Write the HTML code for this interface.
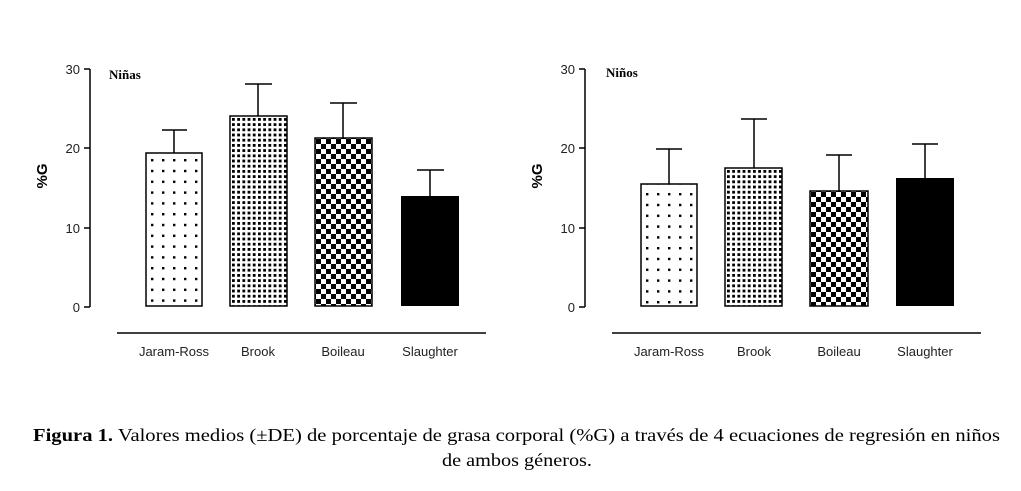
<!DOCTYPE html>
<html><head><meta charset="utf-8"><style>html,body{margin:0;padding:0;background:#fff}svg{display:block}</style></head>
<body>
<svg width="1021" height="491" viewBox="0 0 1021 491" xmlns="http://www.w3.org/2000/svg">
<defs>
<pattern id="sp" width="11" height="10.8" patternUnits="userSpaceOnUse" x="151" y="159"><rect x="0" y="0" width="2.4" height="2.4" fill="#000"/></pattern>
<pattern id="dn" width="5.2" height="5.2" patternUnits="userSpaceOnUse" x="232" y="118"><rect x="0" y="0" width="2.8" height="2.8" fill="#000"/></pattern>
<pattern id="ck" width="10" height="10" patternUnits="userSpaceOnUse" x="316" y="139"><rect x="0" y="0" width="5" height="5" fill="#000"/><rect x="5" y="5" width="5" height="5" fill="#000"/></pattern>
<pattern id="sp2" width="11" height="10.8" patternUnits="userSpaceOnUse" x="646" y="193"><rect x="0" y="0" width="2.4" height="2.4" fill="#000"/></pattern>
<pattern id="dn2" width="5.2" height="5.2" patternUnits="userSpaceOnUse" x="727" y="170"><rect x="0" y="0" width="2.8" height="2.8" fill="#000"/></pattern>
<pattern id="ck2" width="10" height="10" patternUnits="userSpaceOnUse" x="811" y="192"><rect x="0" y="0" width="5" height="5" fill="#000"/><rect x="5" y="5" width="5" height="5" fill="#000"/></pattern>
</defs>
<g font-family="Liberation Sans, sans-serif" font-size="13" fill="#222">
<!-- left chart -->
<g stroke="#000" stroke-width="1.5" fill="none">
<line x1="90" y1="69" x2="90" y2="307"/>
<line x1="84" y1="69" x2="90" y2="69"/><line x1="84" y1="148" x2="90" y2="148"/><line x1="84" y1="228" x2="90" y2="228"/><line x1="84" y1="307" x2="90" y2="307"/>
<line x1="117" y1="333" x2="486" y2="333"/>
<line x1="174" y1="153" x2="174" y2="130"/><line x1="162" y1="130" x2="187" y2="130"/>
<line x1="258" y1="116" x2="258" y2="84"/><line x1="245" y1="84" x2="272" y2="84"/>
<line x1="343" y1="138" x2="343" y2="103"/><line x1="330" y1="103" x2="357" y2="103"/>
<line x1="430" y1="196" x2="430" y2="170"/><line x1="417" y1="170" x2="444" y2="170"/>
</g>
<rect x="146" y="153" width="56" height="153" fill="url(#sp)" stroke="#000" stroke-width="1.5"/>
<rect x="230" y="116" width="57" height="190" fill="url(#dn)" stroke="#000" stroke-width="1.5"/>
<rect x="315" y="138" width="57" height="168" fill="url(#ck)" stroke="#000" stroke-width="1.5"/>
<rect x="401" y="196" width="58" height="110" fill="#000"/>
<g text-anchor="end"><text x="80" y="74">30</text><text x="80" y="153">20</text><text x="80" y="233">10</text><text x="80" y="312">0</text></g>
<text transform="translate(47,176) rotate(-90)" text-anchor="middle" font-weight="bold" font-size="15" fill="#000">%G</text>
<text x="109" y="79" font-family="Liberation Serif, serif" font-weight="bold" font-size="13" fill="#000">Niñas</text>
<g text-anchor="middle"><text x="174" y="356">Jaram-Ross</text><text x="258" y="356">Brook</text><text x="343" y="356">Boileau</text><text x="430" y="356">Slaughter</text></g>
<!-- right chart -->
<g stroke="#000" stroke-width="1.5" fill="none">
<line x1="585" y1="69" x2="585" y2="307"/>
<line x1="579" y1="69" x2="585" y2="69"/><line x1="579" y1="148" x2="585" y2="148"/><line x1="579" y1="228" x2="585" y2="228"/><line x1="579" y1="307" x2="585" y2="307"/>
<line x1="612" y1="333" x2="981" y2="333"/>
<line x1="669" y1="184" x2="669" y2="149"/><line x1="656" y1="149" x2="682" y2="149"/>
<line x1="754" y1="168" x2="754" y2="119"/><line x1="741" y1="119" x2="767" y2="119"/>
<line x1="839" y1="191" x2="839" y2="155"/><line x1="826" y1="155" x2="852" y2="155"/>
<line x1="925" y1="178" x2="925" y2="144"/><line x1="912" y1="144" x2="938" y2="144"/>
</g>
<rect x="641" y="184" width="56" height="122" fill="url(#sp2)" stroke="#000" stroke-width="1.5"/>
<rect x="725" y="168" width="57" height="138" fill="url(#dn2)" stroke="#000" stroke-width="1.5"/>
<rect x="810" y="191" width="58" height="115" fill="url(#ck2)" stroke="#000" stroke-width="1.5"/>
<rect x="896" y="178" width="58" height="128" fill="#000"/>
<g text-anchor="end"><text x="575" y="74">30</text><text x="575" y="153">20</text><text x="575" y="233">10</text><text x="575" y="312">0</text></g>
<text transform="translate(542,176) rotate(-90)" text-anchor="middle" font-weight="bold" font-size="15" fill="#000">%G</text>
<text x="606" y="77" font-family="Liberation Serif, serif" font-weight="bold" font-size="13" fill="#000">Niños</text>
<g text-anchor="middle"><text x="669" y="356">Jaram-Ross</text><text x="754" y="356">Brook</text><text x="839" y="356">Boileau</text><text x="925" y="356">Slaughter</text></g>
</g>
<g font-family="Liberation Serif, serif" font-size="18" fill="#000">
<text x="33" y="441" textLength="967" lengthAdjust="spacingAndGlyphs"><tspan font-weight="bold">Figura 1.</tspan> Valores medios (±DE) de porcentaje de grasa corporal (%G) a través de 4 ecuaciones de regresión en niños</text>
<text x="442" y="466" textLength="150" lengthAdjust="spacingAndGlyphs">de ambos géneros.</text>
</g>
</svg>
</body></html>
